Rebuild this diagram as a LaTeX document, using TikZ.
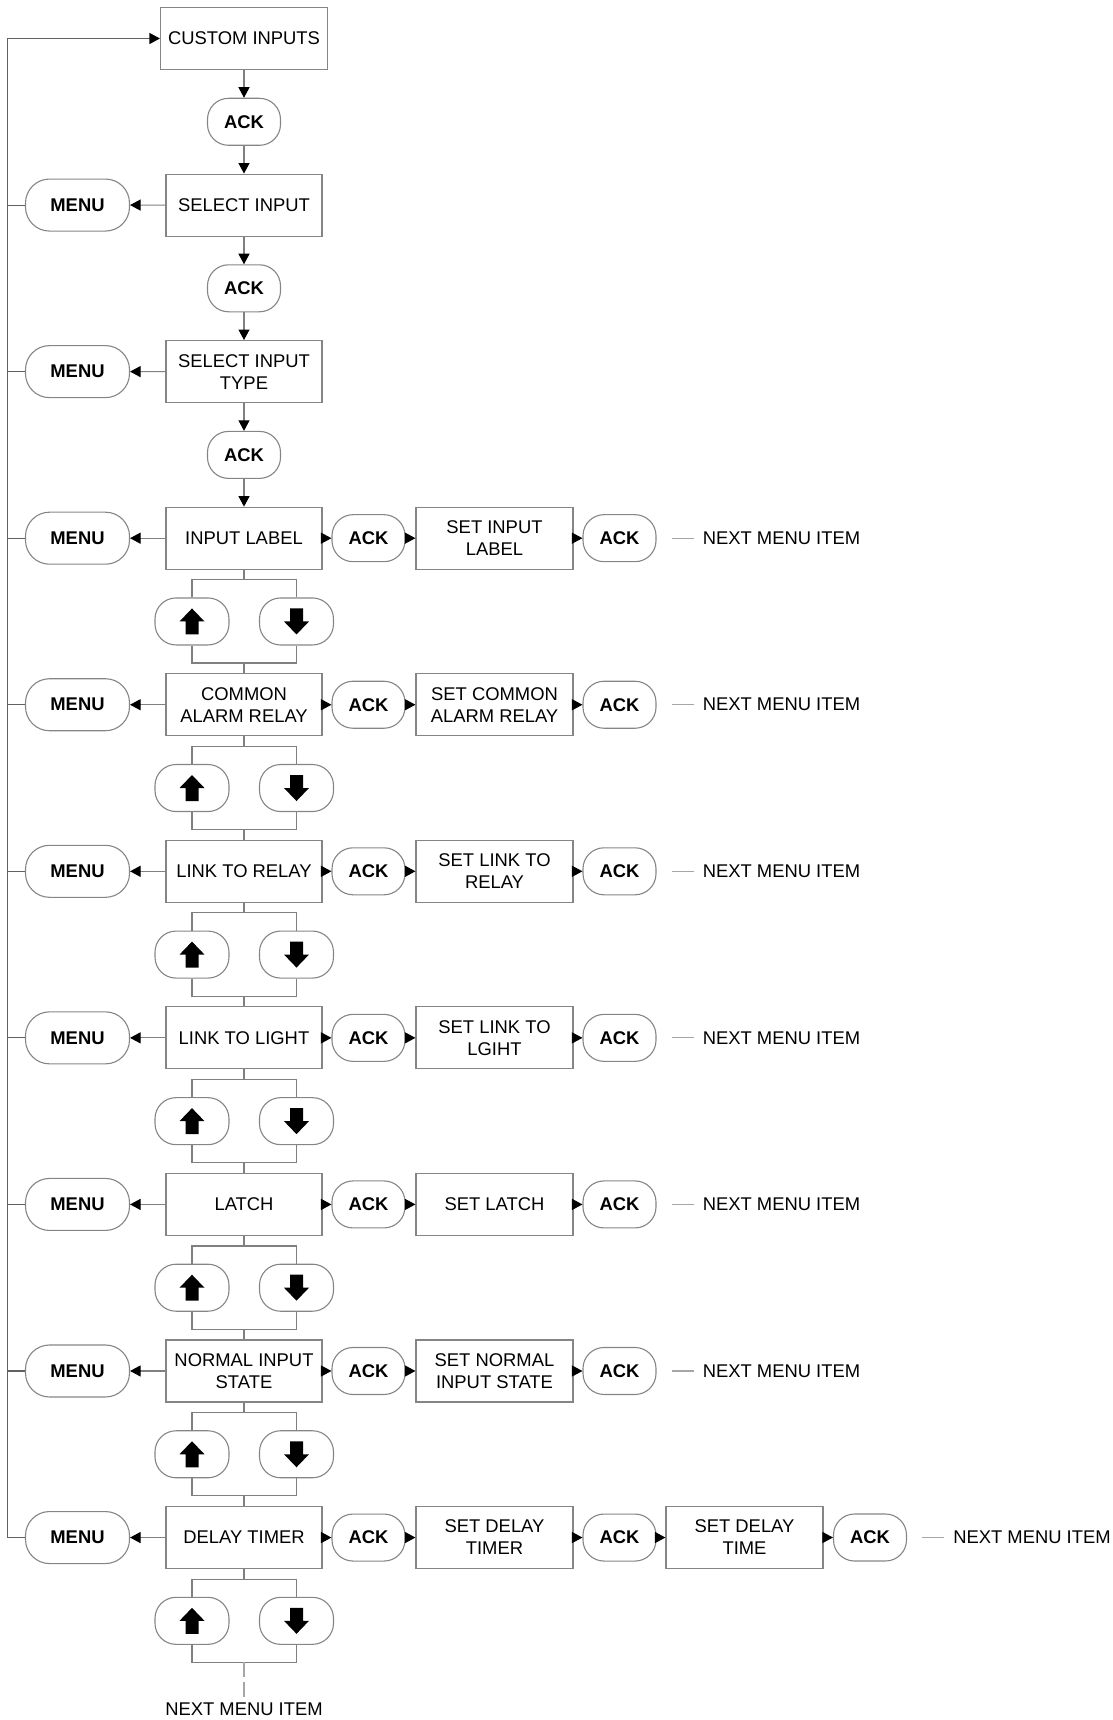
\documentclass[tikz,border=0pt]{standalone}
\usepackage{fontspec}
\setmainfont{Liberation Sans}
\usetikzlibrary{arrows.meta,calc}

\tikzset{
  box/.style={draw=black!48, line width=1.1pt, minimum width=156pt, minimum height=62pt,
    align=center, inner sep=2pt, font=\fontsize{18.4}{22}\selectfont},
  pill/.style={draw=black!48, line width=1.1pt, minimum width=73pt, minimum height=47pt,
    rounded corners=21pt, inner sep=2pt, font=\fontsize{18.4}{22}\selectfont\bfseries},
  menupill/.style={pill, minimum width=104pt, minimum height=52pt, rounded corners=24pt},
  arrowpill/.style={pill, minimum width=74pt},
  link/.style={draw=black!50, line width=1.1pt},
  flowarrow/.style={link, -{Triangle[length=10.5pt,width=11pt,color=black]}},
  loopline/.style={link, draw=black!62},
  looparrow/.style={loopline, -{Triangle[length=10.5pt,width=11pt,color=black]}},
  nextline/.style={draw=black!35, line width=1.1pt},
  nextitem/.style={inner sep=0pt, font=\fontsize{18.4}{22}\selectfont},
  keyarrow/.pic={\fill (0,-13) -- (12.5,0) -- (6.5,0) -- (6.5,13) -- (-6.5,13) -- (-6.5,0) -- (-12.5,0) -- cycle;}
}

\begin{document}
\begin{tikzpicture}[x=1pt,y=-1pt]
\useasboundingbox (0,0) rectangle (1112,1720);

% entry and the first choices
\node[box, minimum width=167pt] (item0) at (244,38.5) {CUSTOM INPUTS};
\node[pill] (ack1) at (244,121.8) {ACK};
\node[box] (item2) at (244,205.1) {SELECT INPUT};
\node[pill] (ack3) at (244,288.3) {ACK};
\node[box] (item4) at (244,371.6) {SELECT INPUT\\TYPE};
\node[pill] (ack5) at (244,454.9) {ACK};

% menu items, their set screens and the up/down keys
\foreach \k/\txt/\settxt in {6/INPUT LABEL/{SET INPUT\\LABEL},
    8/{COMMON\\ALARM RELAY}/{SET COMMON\\ALARM RELAY},
    10/LINK TO RELAY/{SET LINK TO\\RELAY},
    12/LINK TO LIGHT/{SET LINK TO\\LGIHT},
    14/LATCH/SET LATCH,
    16/{NORMAL INPUT\\STATE}/{SET NORMAL\\INPUT STATE},
    18/DELAY TIMER/{SET DELAY\\TIMER}}{
  \pgfmathsetmacro\y{38.5+83.28*\k}
  \node[box] (item\k) at (244,\y) {\txt};
  \node[pill] (ackA\k) at (368.5,\y) {ACK};
  \node[box, minimum width=157pt] (set\k) at (494.5,\y) {\settxt};
  \node[pill] (ackB\k) at (619.5,\y) {ACK};
  \draw[flowarrow] (item\k) -- (ackA\k);
  \draw[flowarrow] (ackA\k) -- (set\k);
  \draw[flowarrow] (set\k) -- (ackB\k);
  \node[arrowpill] (up\k) at (192,\y+83.28) {};
  \node[arrowpill] (down\k) at (296.5,\y+83.28) {};
  \pic at (up\k) {keyarrow};
  \pic[rotate=180] at (down\k) {keyarrow};
  \draw[link] (item\k.south) -- ++(0,10) coordinate (fork\k);
  \draw[link] (up\k.north) |- (fork\k) -| (down\k.north);
  \draw[link] (up\k.south) -- ++(0,17.5) coordinate (join\k) -| (down\k.south);
  \coordinate (merge\k) at (join\k -| item\k.south);
}

\foreach \k in {6,8,...,16}{
  \node[nextitem, anchor=west] (next\k) at ([xshift=46pt]ackB\k.east) {NEXT MENU ITEM};
  \draw[nextline] ([xshift=15pt]ackB\k.east) -- ([xshift=-9pt]next\k.west);
}

% delay timer has one more screen
\node[box, minimum width=157pt] (time18) at (744.5,1537.5) {SET DELAY\\TIME};
\node[pill] (ackC18) at (870,1537.5) {ACK};
\draw[flowarrow] (ackB18) -- (time18);
\draw[flowarrow] (time18) -- (ackC18);
\node[nextitem, anchor=west] (next18) at ([xshift=46pt]ackC18.east) {NEXT MENU ITEM};
\draw[nextline] ([xshift=15pt]ackC18.east) -- ([xshift=-9pt]next18.west);

% down the column
\draw[flowarrow] (item0) -- (ack1);
\draw[flowarrow] (ack1) -- (item2);
\draw[flowarrow] (item2) -- (ack3);
\draw[flowarrow] (ack3) -- (item4);
\draw[flowarrow] (item4) -- (ack5);
\draw[flowarrow] (ack5) -- (item6);
\foreach \k [evaluate=\k as \n using int(\k+2)] in {6,8,...,16}
  \draw[link] (merge\k) -- (item\n.north);

% exit below the last keys
\node[nextitem, anchor=north] (next19) at (244,1703) {NEXT MENU ITEM};
\draw[nextline, dash pattern=on 15pt off 5pt] (merge18) -- ([yshift=6pt]next19.north);

% MENU keys and the loop back to the top
\foreach \k in {2,4,...,18}{
  \node[menupill] (menu\k) at (77.5,{38.5+83.28*\k}) {MENU};
  \draw[flowarrow] (item\k) -- (menu\k);
}
\draw[loopline] (menu18.west) -- ++(-17.5,0) coordinate (loopfoot);
\foreach \k in {2,4,...,16}
  \draw[loopline] (menu\k.west) -- (menu\k.west -| loopfoot);
\draw[looparrow] (loopfoot) |- (item0.west);

\end{tikzpicture}
\end{document}
